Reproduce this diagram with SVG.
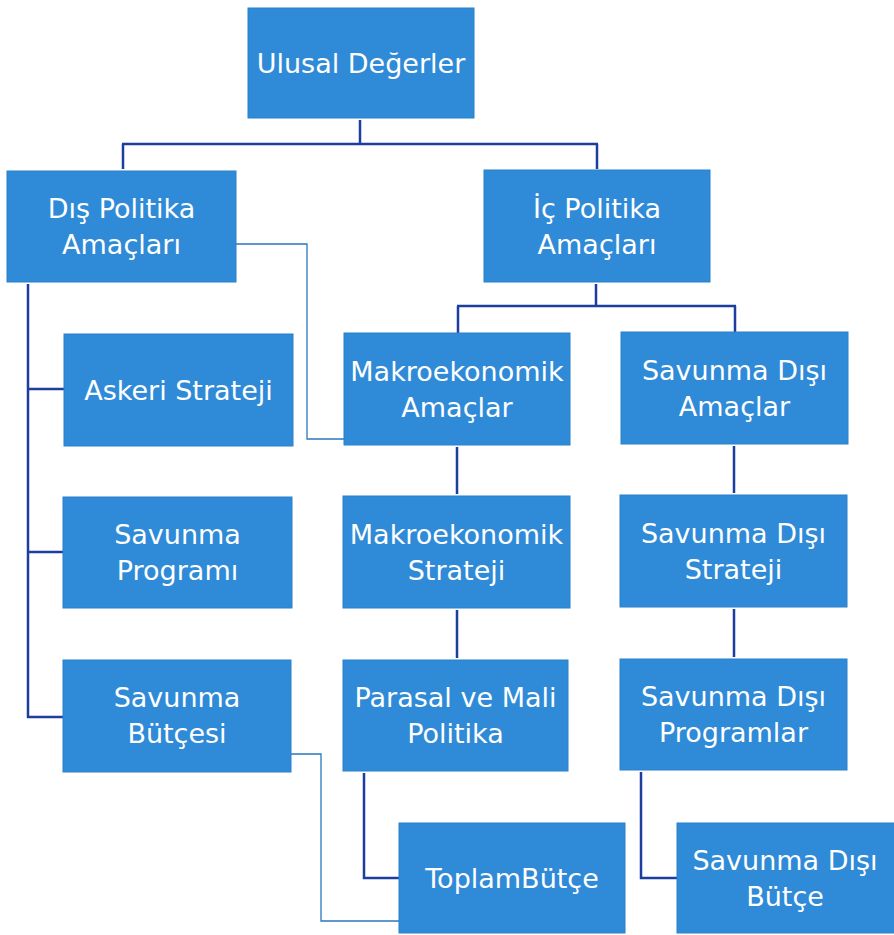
<svg xmlns="http://www.w3.org/2000/svg" width="894" height="935" viewBox="0 0 894 935">
<style>
.box{fill:#2f8bd7;stroke:#2a80cc;stroke-width:1}
.t{font-family:"DejaVu Sans",sans-serif;font-size:27px;fill:#ffffff;text-anchor:middle}
.c{fill:none;stroke:#1c3e9e;stroke-width:2.5}
.thin{fill:none;stroke:#2878c0;stroke-width:1.3}
</style>
<rect width="894" height="935" fill="#ffffff"/>
<g id="connectors">
<path class="c" d="M360,120 V144 M122,144 H598 M123,144 V169 M597,144 V169"/>
<path class="c" d="M28,284 V717 H63 M28,389 H64 M28,552 H63"/>
<path class="c" d="M596,284 V306 M457,306 H736 M458,306 V333 M735,306 V332"/>
<path class="c" d="M457,447 V494 M734,446 V493"/>
<path class="c" d="M457,610 V658 M734,609 V657"/>
<path class="c" d="M364,773 V878 H399 M641,772 V878 H677"/>
<path class="thin" d="M236,244 H307 V439 H344"/>
<path class="thin" d="M291,754 H321 V921 H399"/>
</g>
<g id="ulusal"><rect class="box" x="248" y="8" width="226" height="110"/><text class="t" x="361" y="73">Ulusal Değerler</text></g>
<g id="dis-politika"><rect class="box" x="7" y="171" width="229" height="111"/><text class="t" x="121.5" y="218">Dış Politika</text><text class="t" x="121.5" y="254">Amaçları</text></g>
<g id="ic-politika"><rect class="box" x="484" y="170" width="226" height="112"/><text class="t" x="597" y="218">İç Politika</text><text class="t" x="597" y="254">Amaçları</text></g>
<g id="askeri-strateji"><rect class="box" x="64" y="334" width="229" height="112"/><text class="t" x="178.5" y="400">Askeri Strateji</text></g>
<g id="makro-amaclar"><rect class="box" x="344" y="333" width="226" height="112"/><text class="t" x="457" y="381">Makroekonomik</text><text class="t" x="457" y="417">Amaçlar</text></g>
<g id="sd-amaclar"><rect class="box" x="621" y="332" width="227" height="112"/><text class="t" x="734.5" y="380">Savunma Dışı</text><text class="t" x="734.5" y="416">Amaçlar</text></g>
<g id="savunma-programi"><rect class="box" x="63" y="497" width="229" height="111"/><text class="t" x="177.5" y="544">Savunma</text><text class="t" x="177.5" y="580">Programı</text></g>
<g id="makro-strateji"><rect class="box" x="343" y="496" width="227" height="112"/><text class="t" x="456.5" y="544">Makroekonomik</text><text class="t" x="456.5" y="580">Strateji</text></g>
<g id="sd-strateji"><rect class="box" x="620" y="495" width="227" height="112"/><text class="t" x="733.5" y="543">Savunma Dışı</text><text class="t" x="733.5" y="579">Strateji</text></g>
<g id="savunma-butcesi"><rect class="box" x="63" y="660" width="228" height="112"/><text class="t" x="177" y="707">Savunma</text><text class="t" x="177" y="743">Bütçesi</text></g>
<g id="parasal"><rect class="box" x="343" y="660" width="225" height="111"/><text class="t" x="455.5" y="707">Parasal ve Mali</text><text class="t" x="455.5" y="743">Politika</text></g>
<g id="sd-programlar"><rect class="box" x="620" y="659" width="227" height="111"/><text class="t" x="733.5" y="706">Savunma Dışı</text><text class="t" x="733.5" y="742">Programlar</text></g>
<g id="toplam-butce"><rect class="box" x="399" y="823" width="226" height="110"/><text class="t" x="512" y="888">ToplamBütçe</text></g>
<g id="sd-butce"><rect class="box" x="677" y="823" width="220" height="110"/><text class="t" x="785" y="870">Savunma Dışı</text><text class="t" x="785" y="906">Bütçe</text></g>
</svg>
